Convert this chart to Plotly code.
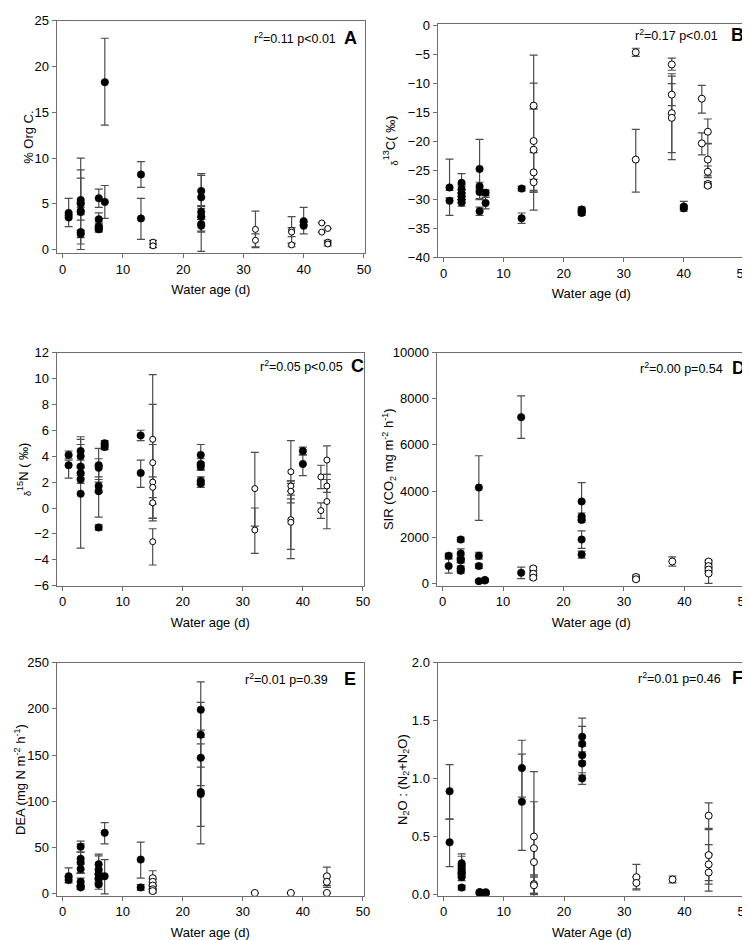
import plotly.graph_objects as go

# ---------------- Data ----------------
# Panel A: % Org C
A_fill_x = [1, 1, 3, 3, 3, 3, 3, 3, 6, 6, 6, 6, 6, 7, 7, 13, 13, 23, 23, 23, 23, 23, 23, 40, 40]
A_fill_y = [4.0, 3.5, 5.4, 5.0, 4.2, 4.1, 1.9, 1.7, 5.6, 3.3, 2.5, 2.3, 2.2, 18.3, 5.2, 8.2, 3.4, 6.4, 5.7, 4.1, 3.6, 2.8, 2.6, 3.1, 2.6]
A_fill_ep = [1.6, 0.3, 4.6, 3.7, 3.6, 0.9, 1.9, 0.4, 1.0, 0.7, 0.3, 0.3, 0.3, 4.8, 1.8, 1.4, 2.2, 1.9, 2.4, 0.6, 1.2, 0.8, 0.7, 1.5, 0.4]
A_fill_em = [0.3, 1.0, 0.3, 0.4, 3.6, 0.9, 1.9, 0.4, 1.0, 0.3, 0.3, 0.3, 0.3, 4.7, 1.8, 1.4, 2.3, 1.9, 2.4, 0.6, 3.8, 0.8, 0.7, 0.4, 0.9]
A_open_x = [15, 15, 32, 32, 38, 38, 38, 43, 43, 44, 44, 44]
A_open_y = [0.8, 0.4, 2.2, 1.0, 2.1, 1.9, 0.5, 2.9, 1.9, 2.3, 0.8, 0.6]
A_open_ep = [0.2, 0.2, 2.0, 0.7, 1.5, 0.5, 0.2, 0, 0, 0, 0.2, 0.2]
A_open_em = [0.2, 0.2, 2.0, 0.7, 1.5, 0.5, 0.2, 0, 0, 0, 0.2, 0.2]

# Panel B: d13C
B_fill_x = [1, 1, 3, 3, 3, 3, 3, 3, 6, 6, 6, 6, 7, 7, 13, 13, 23, 23, 23, 40, 40]
B_fill_y = [-28.0, -30.3, -27.2, -28.3, -29.0, -29.5, -30.1, -30.6, -24.8, -27.8, -28.8, -32.1, -28.9, -30.7, -28.2, -33.3, -31.8, -32.1, -32.4, -31.3, -31.6]
B_fill_ep = [4.9, 0.5, 1.6, 0.8, 0.6, 0.6, 0.5, 0.5, 5.1, 0.7, 0.6, 0.7, 0.5, 1.0, 0.4, 0.9, 0.4, 0.4, 0.4, 0.9, 0.5]
B_fill_em = [0.5, 2.5, 0.6, 0.6, 0.6, 0.6, 0.5, 0.6, 5.1, 0.7, 1.3, 0.7, 0.5, 1.0, 0.4, 0.9, 0.4, 0.4, 0.4, 0.5, 0.5]
B_open_x = [15, 15, 15, 15, 15, 32, 32, 38, 38, 38, 38, 43, 43, 44, 44, 44, 44, 44]
B_open_y = [-13.9, -20.0, -21.5, -25.4, -27.1, -4.7, -23.2, -6.8, -12.0, -15.2, -16.0, -12.7, -20.4, -18.4, -23.2, -25.3, -27.4, -27.7]
B_open_ep = [8.7, 10.0, 7.0, 3.4, 0.5, 0.7, 5.2, 1.1, 1.9, 6.8, 7.2, 2.3, 1.8, 2.2, 2.8, 1.0, 0.4, 0.3]
B_open_em = [0.4, 11.9, 7.0, 3.4, 1.7, 0.7, 5.6, 1.0, 1.9, 6.8, 7.2, 2.5, 2.0, 2.1, 2.8, 1.0, 0.4, 0.3]

# Panel C: d15N
C_fill_x = [1, 1, 3, 3, 3, 3, 3, 3, 6, 6, 6, 6, 6, 7, 7, 13, 13, 23, 23, 23, 23, 23, 40, 40]
C_fill_y = [4.1, 3.3, 4.4, 4.0, 3.2, 2.7, 2.2, 1.1, 3.3, 3.1, 1.7, 1.3, -1.5, 5.0, 4.7, 5.6, 2.7, 4.1, 3.4, 3.2, 2.1, 1.9, 4.4, 3.4]
C_fill_ep = [0.3, 0.4, 1.1, 0.9, 0.5, 0.4, 0.3, 4.2, 1.3, 0.7, 0.5, 2.0, 0.2, 0.2, 0.2, 0.4, 1.0, 0.8, 0.4, 0.3, 0.3, 0.2, 0.3, 0.7]
C_fill_em = [0.3, 1.0, 1.1, 0.9, 0.5, 0.4, 0.3, 4.2, 1.3, 0.7, 0.5, 2.0, 0.2, 0.2, 0.2, 0.4, 1.1, 0.8, 0.4, 0.3, 0.3, 0.3, 0.3, 0.9]
C_open_x = [15, 15, 15, 15, 15, 15, 32, 32, 38, 38, 38, 38, 38, 43, 43, 44, 44, 44]
C_open_y = [5.3, 3.5, 2.0, 1.6, 0.4, -2.6, 1.5, -1.7, 2.8, 1.7, 1.3, -0.9, -1.1, 2.4, -0.2, 3.7, 1.7, 0.5]
C_open_ep = [5.0, 4.5, 2.9, 0.8, 0.4, 1.0, 2.8, 1.7, 2.4, 0.4, 0.6, 3.0, 2.1, 0.9, 0.6, 1.1, 0.5, 2.1]
C_open_em = [5.0, 4.5, 2.8, 2.4, 1.2, 1.8, 2.9, 1.8, 2.4, 0.4, 0.6, 3.0, 2.1, 0.9, 0.6, 1.1, 0.5, 2.1]

# Panel D: SIR
D_fill_x = [1, 1, 3, 3, 3, 3, 3, 3, 6, 6, 6, 6, 7, 7, 13, 13, 23, 23, 23, 23, 23]
D_fill_y = [1200, 750, 1900, 1300, 1050, 1000, 650, 550, 4150, 1200, 750, 100, 150, 130, 7200, 460, 3550, 2900, 2750, 1900, 1250]
D_fill_ep = [100, 300, 100, 200, 150, 100, 100, 100, 1380, 150, 100, 50, 50, 50, 920, 250, 820, 150, 100, 380, 150]
D_fill_em = [100, 300, 100, 200, 150, 100, 100, 100, 1420, 150, 100, 50, 50, 50, 920, 250, 820, 150, 100, 380, 150]
D_open_x = [15, 15, 15, 32, 32, 38, 44, 44, 44, 44]
D_open_y = [650, 420, 250, 280, 180, 950, 950, 750, 600, 430]
D_open_ep = [80, 80, 80, 80, 60, 200, 60, 60, 60, 60]
D_open_em = [80, 80, 80, 80, 60, 200, 60, 60, 60, 430]

# Panel E: DEA
E_fill_x = [1, 1, 3, 3, 3, 3, 3, 3, 3, 6, 6, 6, 6, 6, 6, 7, 7, 13, 13, 23, 23, 23, 23, 23]
E_fill_y = [19, 15, 51, 38, 34, 27, 13, 8, 7, 32, 26, 22, 17, 16, 10, 66, 19, 37, 7, 199, 172, 147, 110, 108]
E_fill_ep = [9, 3, 6, 16, 11, 5, 4, 2, 2, 11, 15, 5, 4, 4, 5, 11, 18, 19, 3, 30, 35, 30, 37, 54]
E_fill_em = [7, 3, 6, 16, 11, 5, 4, 2, 2, 11, 15, 5, 4, 4, 5, 12, 19, 20, 3, 30, 35, 30, 37, 54]
E_open_x = [15, 15, 15, 15, 15, 32, 38, 44, 44, 44]
E_open_y = [17, 13, 9, 5, 3, 1, 1, 19, 13, 1]
E_open_ep = [8, 3, 3, 3, 2, 0, 0, 10, 6, 0]
E_open_em = [8, 3, 3, 3, 2, 0, 0, 10, 6, 0]

# Panel F: N2O : (N2+N2O)
F_fill_x = [1, 1, 3, 3, 3, 3, 3, 3, 3, 6, 6, 6, 7, 7, 13, 13, 23, 23, 23, 23, 23]
F_fill_y = [0.89, 0.45, 0.27, 0.25, 0.22, 0.20, 0.18, 0.15, 0.06, 0.02, 0.01, 0.02, 0.01, 0.02, 1.09, 0.80, 1.36, 1.30, 1.20, 1.13, 1.00]
F_fill_ep = [0.23, 0.20, 0.08, 0.08, 0.03, 0.03, 0.03, 0.03, 0.02, 0.01, 0.01, 0.01, 0.01, 0.01, 0.24, 0.41, 0.16, 0.15, 0.08, 0.10, 0.05]
F_fill_em = [0.24, 0.21, 0.08, 0.08, 0.03, 0.03, 0.03, 0.03, 0.02, 0.01, 0.01, 0.01, 0.01, 0.01, 0.25, 0.42, 0.16, 0.15, 0.08, 0.10, 0.05]
F_open_x = [15, 15, 15, 15, 15, 32, 32, 38, 44, 44, 44, 44]
F_open_y = [0.50, 0.40, 0.28, 0.09, 0.08, 0.15, 0.10, 0.13, 0.68, 0.34, 0.26, 0.19]
F_open_ep = [0.56, 0.40, 0.12, 0.08, 0.07, 0.11, 0.05, 0.03, 0.11, 0.22, 0.17, 0.16]
F_open_em = [0.56, 0.40, 0.12, 0.08, 0.07, 0.11, 0.05, 0.03, 0.11, 0.22, 0.17, 0.16]

panel_letters = ["A", "B", "C", "D", "E", "F"]
stats_text = ["r<sup>2</sup>=0.11 p<0.01", "r<sup>2</sup>=0.17 p<0.01", "r<sup>2</sup>=0.05 p<0.05",
              "r<sup>2</sup>=0.00 p=0.54", "r<sup>2</sup>=0.01 p=0.39", "r<sup>2</sup>=0.01 p=0.46"]
x_titles = ["Water age (d)"] * 5 + ["Water Age (d)"]
y_titles = ["% Org C.", "<sub>δ</sub><sup>13</sup>C( ‰)", "<sub>δ</sub><sup>15</sup>N ( ‰)",
            "SIR (CO<sub>2</sub> mg m<sup>-2</sup> h<sup>-1</sup>)", "DEA (mg N m<sup>-2</sup> h<sup>-1</sup>)",
            "N<sub>2</sub>O : (N<sub>2</sub>+N<sub>2</sub>O)"]
x_tick_vals = [0, 10, 20, 30, 40, 50]

panels = [
    (A_fill_x, A_fill_y, A_fill_ep, A_fill_em, A_open_x, A_open_y, A_open_ep, A_open_em),
    (B_fill_x, B_fill_y, B_fill_ep, B_fill_em, B_open_x, B_open_y, B_open_ep, B_open_em),
    (C_fill_x, C_fill_y, C_fill_ep, C_fill_em, C_open_x, C_open_y, C_open_ep, C_open_em),
    (D_fill_x, D_fill_y, D_fill_ep, D_fill_em, D_open_x, D_open_y, D_open_ep, D_open_em),
    (E_fill_x, E_fill_y, E_fill_ep, E_fill_em, E_open_x, E_open_y, E_open_ep, E_open_em),
    (F_fill_x, F_fill_y, F_fill_ep, F_fill_em, F_open_x, F_open_y, F_open_ep, F_open_em),
]

# ---------------- Layout geometry (pixels) ----------------
W, H = 750, 940


def px_x(p):
    return p / W


def px_y(p):
    return 1 - p / H


px_domains = [  # (left, right, top, bottom)
    (49, 360, 6, 242),
    (433, 743, 9, 246),
    (49, 359, 343, 580),
    (432, 744, 343, 580),
    (49, 359, 658, 895),
    (433, 744, 658, 895),
]
y_ranges = [[-0.4, 25], [-40, 0.2], [-6, 12], [-100, 10000], [-2, 250], [-0.01, 2.0]]
y_dticks = [5, 5, 2, 2000, 50, 0.5]
y_tickformats = ["d", "d", "d", "d", "d", ".1f"]
y_title_x = [20, 386, 16, 384, 12, 398]  # centre of rotated y titles
open_sizes = [6, 7, 6, 7, 7, 7]
stat_pos = [(0.913, 0.952, 0.928), (0.918, 0.974, 0.954), (0.939, 0.977, 0.941),
            (0.933, 0.974, 0.932), (0.89, 0.955, 0.928), (0.926, 0.971, 0.932)]

FONT = "Liberation Sans, Arial, sans-serif"
ERR_COLOR = "#4d4d4d"
AX_COLOR = "#6e6e6e"

fig = go.Figure()
layout = dict(width=W, height=H, margin=dict(l=0, r=0, t=0, b=0),
              paper_bgcolor="white", plot_bgcolor="white", showlegend=False,
              font=dict(family=FONT, size=13, color="black"))
annotations = []

for i, (fx, fy, fep, fem, ox, oy, oep, oem) in enumerate(panels):
    n = i + 1
    xa = "x" if n == 1 else f"x{n}"
    ya = "y" if n == 1 else f"y{n}"
    fig.add_trace(go.Scatter(
        x=fx, y=fy, mode="markers", xaxis=xa, yaxis=ya,
        marker=dict(symbol="circle", size=7.5, color="black", line=dict(color="black", width=0.5)),
        error_y=dict(type="data", symmetric=False, array=fep, arrayminus=fem,
                     color=ERR_COLOR, thickness=1.2, width=4)))
    fig.add_trace(go.Scatter(
        x=ox, y=oy, mode="markers", xaxis=xa, yaxis=ya,
        marker=dict(symbol="circle", size=open_sizes[i], color="white", line=dict(color="black", width=1)),
        error_y=dict(type="data", symmetric=False, array=oep, arrayminus=oem,
                     color=ERR_COLOR, thickness=1.2, width=4)))

    l, r, t, b = px_domains[i]
    xkey = "xaxis" if n == 1 else f"xaxis{n}"
    ykey = "yaxis" if n == 1 else f"yaxis{n}"
    layout[xkey] = dict(domain=[px_x(l), px_x(r)], anchor=ya, range=[-1, 50.2],
                        tickvals=x_tick_vals, ticks="outside", ticklen=4, tickcolor=AX_COLOR,
                        showline=True, linecolor=AX_COLOR, linewidth=1, mirror=True,
                        showgrid=False, zeroline=False,
                        tickfont=dict(size=13, family=FONT),
                        title=dict(text=x_titles[i], font=dict(size=13, family=FONT), standoff=9))
    layout[ykey] = dict(domain=[px_y(b), px_y(t)], anchor=xa, range=y_ranges[i],
                        dtick=y_dticks[i], tick0=0, tickformat=y_tickformats[i],
                        ticks="outside", ticklen=4, tickcolor=AX_COLOR,
                        showline=True, linecolor=AX_COLOR, linewidth=1, mirror=True,
                        showgrid=False, zeroline=False,
                        tickfont=dict(size=13, family=FONT))
    annotations.append(dict(text=y_titles[i], xref="paper", yref="paper",
                            x=px_x(y_title_x[i]), y=px_y((t + b) / 2),
                            xanchor="center", yanchor="middle", textangle=-90, showarrow=False,
                            font=dict(size=13, family=FONT)))
    sx, lx, sy = stat_pos[i]
    annotations.append(dict(text=stats_text[i], xref=f"{xa} domain", yref=f"{ya} domain",
                            x=sx, y=sy, xanchor="right", yanchor="middle", showarrow=False,
                            font=dict(size=12.5, family=FONT)))
    annotations.append(dict(text=f"<b>{panel_letters[i]}</b>", xref=f"{xa} domain", yref=f"{ya} domain",
                            x=lx, y=sy, xanchor="center", yanchor="middle", showarrow=False,
                            font=dict(size=18, family=FONT)))

layout["annotations"] = annotations
fig.update_layout(**layout)
fig.write_html("out.html")
